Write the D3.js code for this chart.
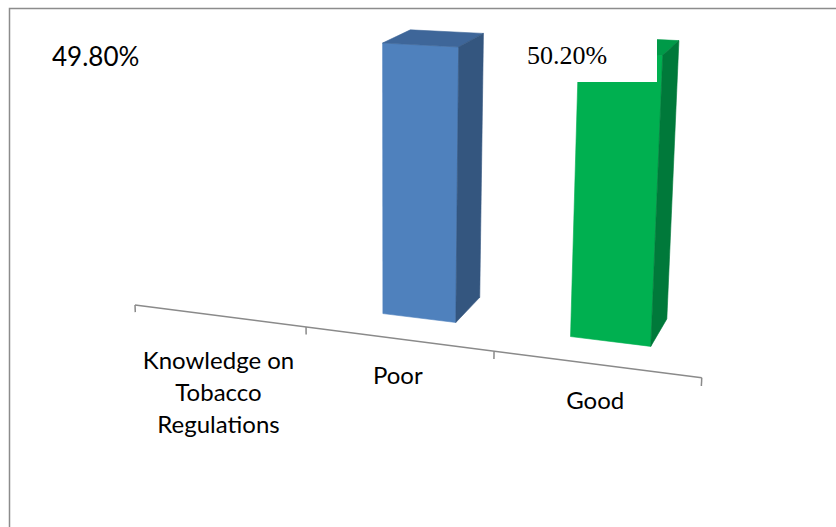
<!DOCTYPE html>
<html><head><meta charset="utf-8">
<script src="https://cdn.jsdelivr.net/npm/d3@7"></script>
<style>html,body{margin:0;padding:0;background:#fff;overflow:hidden}
.serif{font-family:"Liberation Serif","Times New Roman","DejaVu Serif",serif}</style>
</head><body>
<svg id="chart" width="836" height="527"></svg>
<script>
// ---- data ----
const categories = ["Knowledge on Tobacco Regulations", "Poor", "Good"];
const categoryLines = [["Knowledge on", "Tobacco", "Regulations"], ["Poor"], ["Good"]];
const values = [null, 49.8, 50.2];
const dataLabels = ["49.80%", "50.20%"];

// ---- styles ----
const palette = {
  front: [null, "#4f81bd", "#00b050"],
  top:   [null, "#3e6699", "#009a48"],
  side:  [null, "#34567f", "#00793a"]
};

const svg = d3.select("#chart");

// perspective camera (homogeneous columns for X, Y, Z and origin)
const M = {x: [157.2, 7.2, -0.0452], y: [-0.3104, -5.333, -0.000796], z: [110, -27.5, 0.11], o: [135, 305, 1]};
function proj(X, Y, Z) {
  const v = [0, 1, 2].map(k => M.o[k] + M.x[k] * X + M.y[k] * Y + M.z[k] * Z);
  return [v[0] / v[2], v[1] / v[2]];
}

const x = d3.scaleBand().domain(categories).range([0, 3]).paddingInner(0.6).paddingOuter(0.3);
const y = d3.scaleLinear().domain([0, 100]).range([0, 100]);
const zFront = 0.31, zBack = 0.71;

// frame
svg.append("rect").attr("x", 9.5).attr("y", 8.5).attr("width", 900).attr("height", 600)
  .attr("fill", "none").attr("stroke", "#8c8c8c").attr("stroke-width", 1.5);

// axis line and ticks
const line = d3.line();
svg.append("path").attr("d", line([proj(0, 0, 0), proj(3, 0, 0)]))
  .attr("stroke", "#8a8a8a").attr("stroke-width", 1.5).attr("fill", "none");
const tickPos = [0].concat(categories.map(c => x(c) + x.bandwidth() / 2 + x.step() / 2));
svg.selectAll("path.tick").data(tickPos).join("path").attr("class", "tick")
  .attr("d", t => line([proj(t, 0, 0), proj(t, -1.4, 0)]))
  .attr("stroke", "#8a8a8a").attr("stroke-width", 1.5).attr("fill", "none");

// bars
const bars = categories.map((c, i) => ({c, i, v: values[i]})).filter(d => d.v != null);
const faces = [];
bars.forEach(d => {
  const x0 = x(d.c), x1 = x0 + x.bandwidth(), h = y(d.v);
  faces.push({i: d.i, type: "front", pts: [[x0, 0, zFront], [x1, 0, zFront], [x1, h, zFront], [x0, h, zFront]]});
  faces.push({i: d.i, type: "top", pts: [[x0, h, zFront], [x1, h, zFront], [x1, h, zBack], [x0, h, zBack]]});
  faces.push({i: d.i, type: "side", pts: [[x1, 0, zFront], [x1, 0, zBack], [x1, h, zBack], [x1, h, zFront]]});
});
svg.selectAll("path.face").data(faces).join("path").attr("class", "face")
  .attr("d", f => line(f.pts.map(p => proj(...p))) + "Z")
  .attr("fill", f => palette[f.type][f.i])
  .attr("stroke", f => palette[f.type][f.i]).attr("stroke-width", 0.6)
  .attr("stroke-linejoin", "round");

// category labels
categories.forEach((c, i) => {
  const [cx, cy] = proj(x(c) + x.bandwidth() / 2, 0, 0);
  const lines = categoryLines[i];
  const dy0 = lines.length > 1 ? 53 : 45;
  const t = svg.append("text").attr("text-anchor", "middle")
    .attr("font-family", "Lato, 'Open Sans', sans-serif").attr("font-size", 24).attr("fill", "#000");
  lines.forEach((ln, k) => {
    t.append("tspan").attr("x", cx).attr("y", cy + dy0 + k * 32).text(ln);
  });
});

// data labels
svg.append("text").attr("x", 52).attr("y", 66)
  .attr("font-family", "Lato, 'Open Sans', sans-serif").attr("font-size", 26).attr("fill", "#000")
  .text(dataLabels[0]);
svg.append("rect").attr("x", 521).attr("y", 28).attr("width", 136).attr("height", 54).attr("fill", "#fff");
svg.append("text").attr("class", "serif").attr("x", 527).attr("y", 64)
  .style("font-size", "26px").attr("fill", "#000")
  .text(dataLabels[1]);
</script>
</body></html>
